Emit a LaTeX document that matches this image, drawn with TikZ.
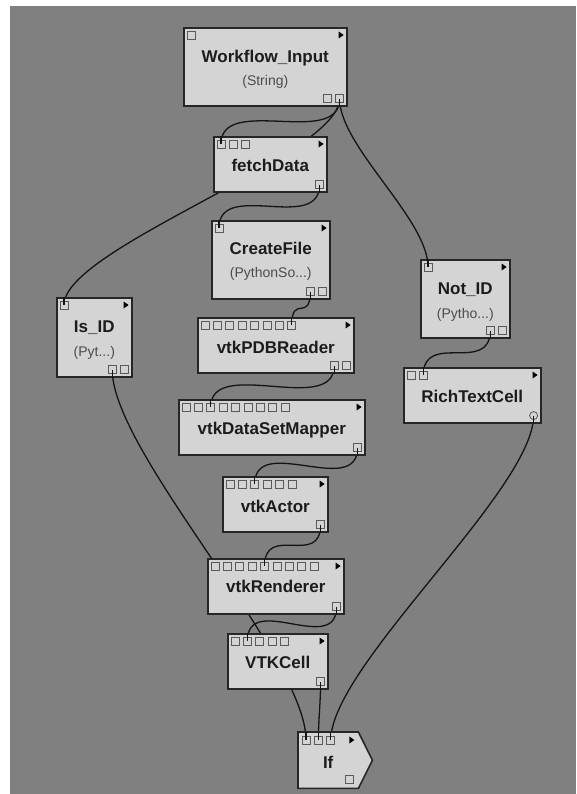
\documentclass[tikz,border=0pt]{standalone}
\usepackage{fontspec}
\setmainfont{Liberation Sans}
\usetikzlibrary{calc}
\pgfdeclarelayer{background}
\pgfdeclarelayer{foreground}
\pgfsetlayers{background,main,foreground}
\definecolor{bggray}{HTML}{808080}
\definecolor{boxfill}{HTML}{D4D4D4}
\definecolor{boxline}{HTML}{262626}
\definecolor{portline}{HTML}{5A5A5A}
\definecolor{ttlcol}{HTML}{1C1C1C}
\definecolor{subcol}{HTML}{4C4C4C}
\definecolor{wirecol}{HTML}{141414}
\tikzset{
  modbox/.style={draw=boxline, fill=boxfill, line width=1.6pt, inner sep=0pt, anchor=north west, rectangle},
  portbox/.style={draw=portline, fill=boxfill, line width=0.8pt, minimum size=8pt, inner sep=0pt, rectangle},
  portcirc/.style={draw=portline, fill=boxfill, line width=0.8pt, minimum size=8pt, inner sep=0pt, circle},
  ttl/.style={anchor=base, inner sep=0pt, text=ttlcol, font=\fontsize{17}{20}\selectfont\bfseries},
  subttl/.style={anchor=base, inner sep=0pt, text=subcol, font=\fontsize{14}{17}\selectfont},
  wire/.style={draw=wirecol, line width=1.3pt},
  runtri/.style={fill=black},
}
\newcommand{\mkmod}[5]{%
  \node[modbox, minimum width=#4pt, minimum height=#5pt] (#1) at (#2,#3) {};
  \fill[runtri] ($(#1.north east)+(-9,4.5)$) -- ++(0,7) -- ++(5,-3.5) -- cycle;
}
\newcommand{\mkin}[2]{\foreach \k in {1,...,#2}{\node[portbox] (#1-i\k) at ($(#1.north west)+({8+12.4*(\k-1)},8)$) {};}}
\newcommand{\mkout}[2]{\foreach \k in {1,...,#2}{\node[portbox] (#1-o\k) at ($(#1.south east)+({-8-12.4*(\k-1)},-8)$) {};}}
\begin{document}
\begin{tikzpicture}[x=1pt,y=-1pt]
\useasboundingbox (0,0) rectangle (576,794);
\begin{pgfonlayer}{background}
\fill[white] (0,0) rectangle (576,794);
\fill[bggray] (9.5,6) rectangle (576,794);
\end{pgfonlayer}

% modules
\mkmod{wi}{183}{27}{163}{78}
\mkin{wi}{1}\mkout{wi}{2}
\node[ttl] (wi-t) at ($(wi.north)+(0,36)$) {Workflow\_Input};
\node[subttl] (wi-s) at ($(wi.north)+(0,59)$) {(String)};

\mkmod{fd}{213}{136}{113}{55}
\mkin{fd}{3}\mkout{fd}{1}
\node[ttl] (fd-t) at ($(fd.north)+(0,35.5)$) {fetchData};

\mkmod{cf}{211}{220}{118}{78}
\mkin{cf}{1}\mkout{cf}{2}
\node[ttl] (cf-t) at ($(cf.north)+(0,34.5)$) {CreateFile};
\node[subttl] (cf-s) at ($(cf.north)+(0,57.5)$) {(PythonSo...)};

\mkmod{isid}{56}{297}{75}{79}
\mkin{isid}{1}\mkout{isid}{2}
\node[ttl] (isid-t) at ($(isid.north)+(0,35.5)$) {Is\_ID};
\node[subttl] (isid-s) at ($(isid.north)+(0,59)$) {(Pyt...)};

\mkmod{notid}{420}{259}{89}{78}
\mkin{notid}{1}\mkout{notid}{2}
\node[ttl] (notid-t) at ($(notid.north)+(0,35.5)$) {Not\_ID};
\node[subttl] (notid-s) at ($(notid.north)+(0,59)$) {(Pytho...)};

\mkmod{rtc}{403}{367}{137}{55}
\mkin{rtc}{2}
\node[portcirc] (rtc-o1) at ($(rtc.south east)+(-8,-8)$) {};
\node[ttl] (rtc-t) at ($(rtc.north)+(0,35.5)$) {RichTextCell};

\mkmod{pdb}{197}{317}{156}{55}
\mkin{pdb}{8}\mkout{pdb}{2}
\node[ttl] (pdb-t) at ($(pdb.north)+(0,36.5)$) {vtkPDBReader};

\mkmod{dsm}{178}{399}{186}{55}
\mkin{dsm}{9}\mkout{dsm}{1}
\node[ttl] (dsm-t) at ($(dsm.north)+(0,35)$) {vtkDataSetMapper};

\mkmod{act}{222}{476}{105}{55}
\mkin{act}{6}\mkout{act}{1}
\node[ttl] (act-t) at ($(act.north)+(0,36.5)$) {vtkActor};

\mkmod{ren}{207}{558}{136}{55}
\mkin{ren}{9}\mkout{ren}{1}
\node[ttl] (ren-t) at ($(ren.north)+(0,34.5)$) {vtkRenderer};

\mkmod{vc}{227}{633}{100}{55}
\mkin{vc}{5}\mkout{vc}{1}
\node[ttl] (vc-t) at ($(vc.north)+(0,35)$) {VTKCell};

% If module (pointed shape)
\node[inner sep=0pt, minimum width=60pt, minimum height=56pt, anchor=north west] (ifb) at (298,732) {};
\filldraw[draw=boxline, fill=boxfill, line width=1.6pt, line join=miter]
  (ifb.north west) -- (ifb.north east) -- ($(ifb.east)+(14,0)$) -- (ifb.south east) -- (ifb.south west) -- cycle;
\fill[runtri] ($(ifb.north east)+(-9,4.5)$) -- ++(0,7) -- ++(5,-3.5) -- cycle;
\mkin{ifb}{3}
\node[portbox] (ifb-o1) at ($(ifb.south east)+(-9,-9)$) {};
\node[ttl] (ifb-t) at ($(ifb.north)+(0,36)$) {If};

% connections (behind modules)
\begin{pgfonlayer}{background}
\draw[wire] (wi-o1.center) .. controls +(0,50) and +(0,-50) .. (fd-i1.center);
\draw[wire] (wi-o1.center) .. controls +(0,57) and +(0,-57) .. (isid-i1.center);
\draw[wire] (wi-o1.center) .. controls +(0,48) and +(0,-48) .. (notid-i1.center);
\draw[wire] (fd-o1.center) .. controls +(0,49) and +(0,-49) .. (cf-i1.center);
\draw[wire] (cf-o2.center) .. controls +(0,31) and +(0,-31) .. (pdb-i8.center);
\draw[wire] (pdb-o2.center) .. controls +(0,51) and +(0,-51) .. (dsm-i3.center);
\draw[wire] (dsm-o1.center) .. controls +(0,51) and +(0,-51) .. (act-i3.center);
\draw[wire] (act-o1.center) .. controls +(0,43) and +(0,-43) .. (ren-i5.center);
\draw[wire] (ren-o1.center) .. controls +(0,50) and +(0,-50) .. (vc-i2.center);
\draw[wire] (notid-o2.center) .. controls +(0,44) and +(0,-44) .. (rtc-i2.center);
\draw[wire] (isid-o2.center) .. controls +(0,83) and +(0,-83) .. (ifb-i1.center);
\draw[wire] (vc-o1.center) .. controls +(0,20) and +(0,-20) .. (ifb-i2.center);
\draw[wire] (rtc-o1.center) .. controls +(0,74) and +(0,-74) .. (ifb-i3.center);
\end{pgfonlayer}

% wire ends visible inside connected ports
\begin{pgfonlayer}{foreground}
\draw[wire] (wi-o1.center) -- (wi-o1.center |- wi.south);
\draw[wire] (fd-o1.center) -- (fd-o1.center |- fd.south);
\draw[wire] (cf-o2.center) -- (cf-o2.center |- cf.south);
\draw[wire] (pdb-o2.center) -- (pdb-o2.center |- pdb.south);
\draw[wire] (dsm-o1.center) -- (dsm-o1.center |- dsm.south);
\draw[wire] (act-o1.center) -- (act-o1.center |- act.south);
\draw[wire] (ren-o1.center) -- (ren-o1.center |- ren.south);
\draw[wire] (vc-o1.center) -- (vc-o1.center |- vc.south);
\draw[wire] (notid-o2.center) -- (notid-o2.center |- notid.south);
\draw[wire] (isid-o2.center) -- (isid-o2.center |- isid.south);
\draw[wire] (rtc-o1.center) -- (rtc-o1.center |- rtc.south);
\draw[wire] (fd-i1.center) -- (fd-i1.center |- fd.north);
\draw[wire] (isid-i1.center) -- (isid-i1.center |- isid.north);
\draw[wire] (notid-i1.center) -- (notid-i1.center |- notid.north);
\draw[wire] (cf-i1.center) -- (cf-i1.center |- cf.north);
\draw[wire] (pdb-i8.center) -- (pdb-i8.center |- pdb.north);
\draw[wire] (dsm-i3.center) -- (dsm-i3.center |- dsm.north);
\draw[wire] (act-i3.center) -- (act-i3.center |- act.north);
\draw[wire] (ren-i5.center) -- (ren-i5.center |- ren.north);
\draw[wire] (vc-i2.center) -- (vc-i2.center |- vc.north);
\draw[wire] (rtc-i2.center) -- (rtc-i2.center |- rtc.north);
\draw[wire] (ifb-i1.center) -- (ifb-i1.center |- ifb.north);
\draw[wire] (ifb-i2.center) -- (ifb-i2.center |- ifb.north);
\draw[wire] (ifb-i3.center) -- (ifb-i3.center |- ifb.north);
\end{pgfonlayer}
\end{tikzpicture}
\end{document}
